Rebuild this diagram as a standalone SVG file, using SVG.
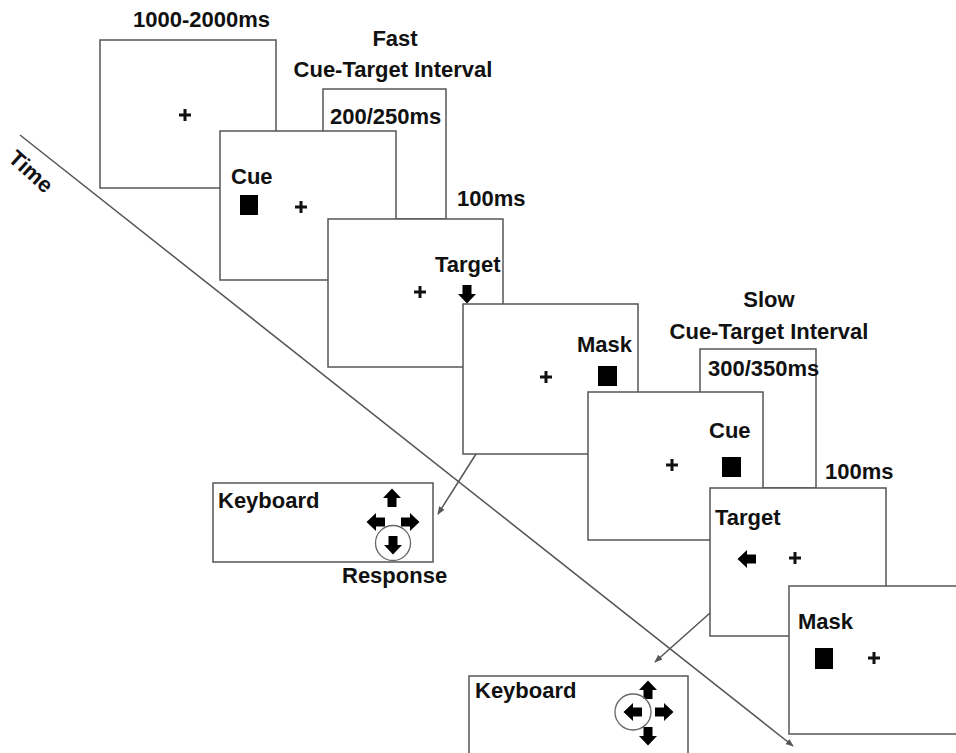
<svg xmlns="http://www.w3.org/2000/svg" xmlns:xlink="http://www.w3.org/1999/xlink" width="956" height="753" viewBox="0 0 956 753">
<style>
.fr{fill:#fff;stroke:#555;stroke-width:1.5}
.t{font-family:"Liberation Sans",Arial,sans-serif;font-weight:bold;font-size:22px;fill:#111}
.c{text-anchor:middle}
.ln{stroke:#555;stroke-width:1.5;fill:none}
.fx{stroke:#111;stroke-width:3;fill:none}
.sq{fill:#000}
.ring{fill:none;stroke:#666;stroke-width:1.3}
</style>
<defs>
<path id="ar" d="M-4.5,9 L4.5,9 L4.5,0 L9,0 L0,-9.5 L-9,0 L-4.5,0 Z" fill="#000"/>
<path id="plus" d="M-6,0 H6 M0,-6 V6" class="fx"/>
<marker id="mk" viewBox="0 0 10 10" refX="9" refY="5" markerWidth="8" markerHeight="8" orient="auto" markerUnits="userSpaceOnUse">
<path d="M0,1 L10,5 L0,9 Z" fill="#555"/>
</marker>
</defs>

<g id="frame1">
<rect class="fr" x="100" y="40" width="176" height="148"/>
<text class="t" x="133" y="27" font-size="20.5">1000-2000ms</text>
<use xlink:href="#plus" x="185" y="115"/>
</g>

<g id="fast-interval">
<text class="t c" x="395" y="46">Fast</text>
<text class="t c" x="393" y="77" font-size="22.5">Cue-Target Interval</text>
<rect class="fr" x="323" y="89" width="123" height="130"/>
<text class="t" x="330" y="124" font-size="21.5">200/250ms</text>
</g>

<g id="frame2">
<rect class="fr" x="220" y="131" width="176" height="149"/>
<text class="t" x="231" y="184">Cue</text>
<rect class="sq" x="240" y="195" width="18" height="20"/>
<use xlink:href="#plus" x="301" y="207"/>
</g>

<text class="t" x="457" y="206" font-size="20">100ms</text>

<g id="frame3">
<rect class="fr" x="328" y="219" width="175" height="148"/>
<text class="t" x="435" y="272">Target</text>
<use xlink:href="#plus" x="420" y="292"/>
<use xlink:href="#ar" transform="translate(467,294) rotate(180)"/>
</g>

<g id="frame4">
<rect class="fr" x="463" y="304" width="175" height="150"/>
<text class="t" x="577" y="352" font-size="23">Mask</text>
<rect class="sq" x="598" y="366" width="19" height="20"/>
<use xlink:href="#plus" x="546" y="377"/>
</g>

<g id="slow-interval">
<text class="t c" x="769" y="307">Slow</text>
<text class="t c" x="769" y="339" font-size="22.5">Cue-Target Interval</text>
<rect class="fr" x="700" y="349" width="116" height="139"/>
<text class="t" x="708" y="376" font-size="21.5">300/350ms</text>
</g>

<g id="frame5">
<rect class="fr" x="588" y="392" width="175" height="148"/>
<text class="t" x="709" y="438">Cue</text>
<rect class="sq" x="722" y="457" width="19" height="20"/>
<use xlink:href="#plus" x="672" y="465"/>
</g>

<text class="t" x="825" y="479" font-size="20">100ms</text>

<g id="frame6">
<rect class="fr" x="710" y="488" width="176" height="148"/>
<text class="t" x="715" y="525">Target</text>
<use xlink:href="#ar" transform="translate(747,559) rotate(-90)"/>
<use xlink:href="#plus" x="795" y="558"/>
</g>

<g id="frame7">
<rect class="fr" x="789" y="586" width="190" height="148"/>
<text class="t" x="798" y="629" font-size="23">Mask</text>
<rect class="sq" x="815" y="648" width="18" height="21"/>
<use xlink:href="#plus" x="874" y="658"/>
</g>

<g id="keyboard1">
<rect class="fr" x="213" y="483" width="220" height="79"/>
<text class="t" x="218" y="508">Keyboard</text>
<use xlink:href="#ar" transform="translate(392,498)"/>
<use xlink:href="#ar" transform="translate(376,522) rotate(-90)"/>
<use xlink:href="#ar" transform="translate(410,522) rotate(90)"/>
<circle class="ring" cx="393" cy="543" r="17.5"/>
<use xlink:href="#ar" transform="translate(393,545) rotate(180)"/>
<text class="t" x="342" y="583" font-size="21.5">Response</text>
</g>

<g id="keyboard2">
<rect class="fr" x="469" y="676" width="219" height="80"/>
<text class="t" x="475" y="698">Keyboard</text>
<use xlink:href="#ar" transform="translate(648,690)"/>
<circle class="ring" cx="633" cy="712" r="18"/>
<use xlink:href="#ar" transform="translate(633,712) rotate(-90)"/>
<use xlink:href="#ar" transform="translate(664,712) rotate(90)"/>
<use xlink:href="#ar" transform="translate(648,736) rotate(180)"/>
</g>

<g id="connectors">
<line class="ln" x1="20" y1="135" x2="793" y2="746" marker-end="url(#mk)"/>
<line class="ln" x1="476" y1="454" x2="438" y2="514" marker-end="url(#mk)"/>
<line class="ln" x1="710" y1="613" x2="655" y2="662" marker-end="url(#mk)"/>
</g>

<text class="t" transform="translate(7,160) rotate(42)">Time</text>
</svg>
